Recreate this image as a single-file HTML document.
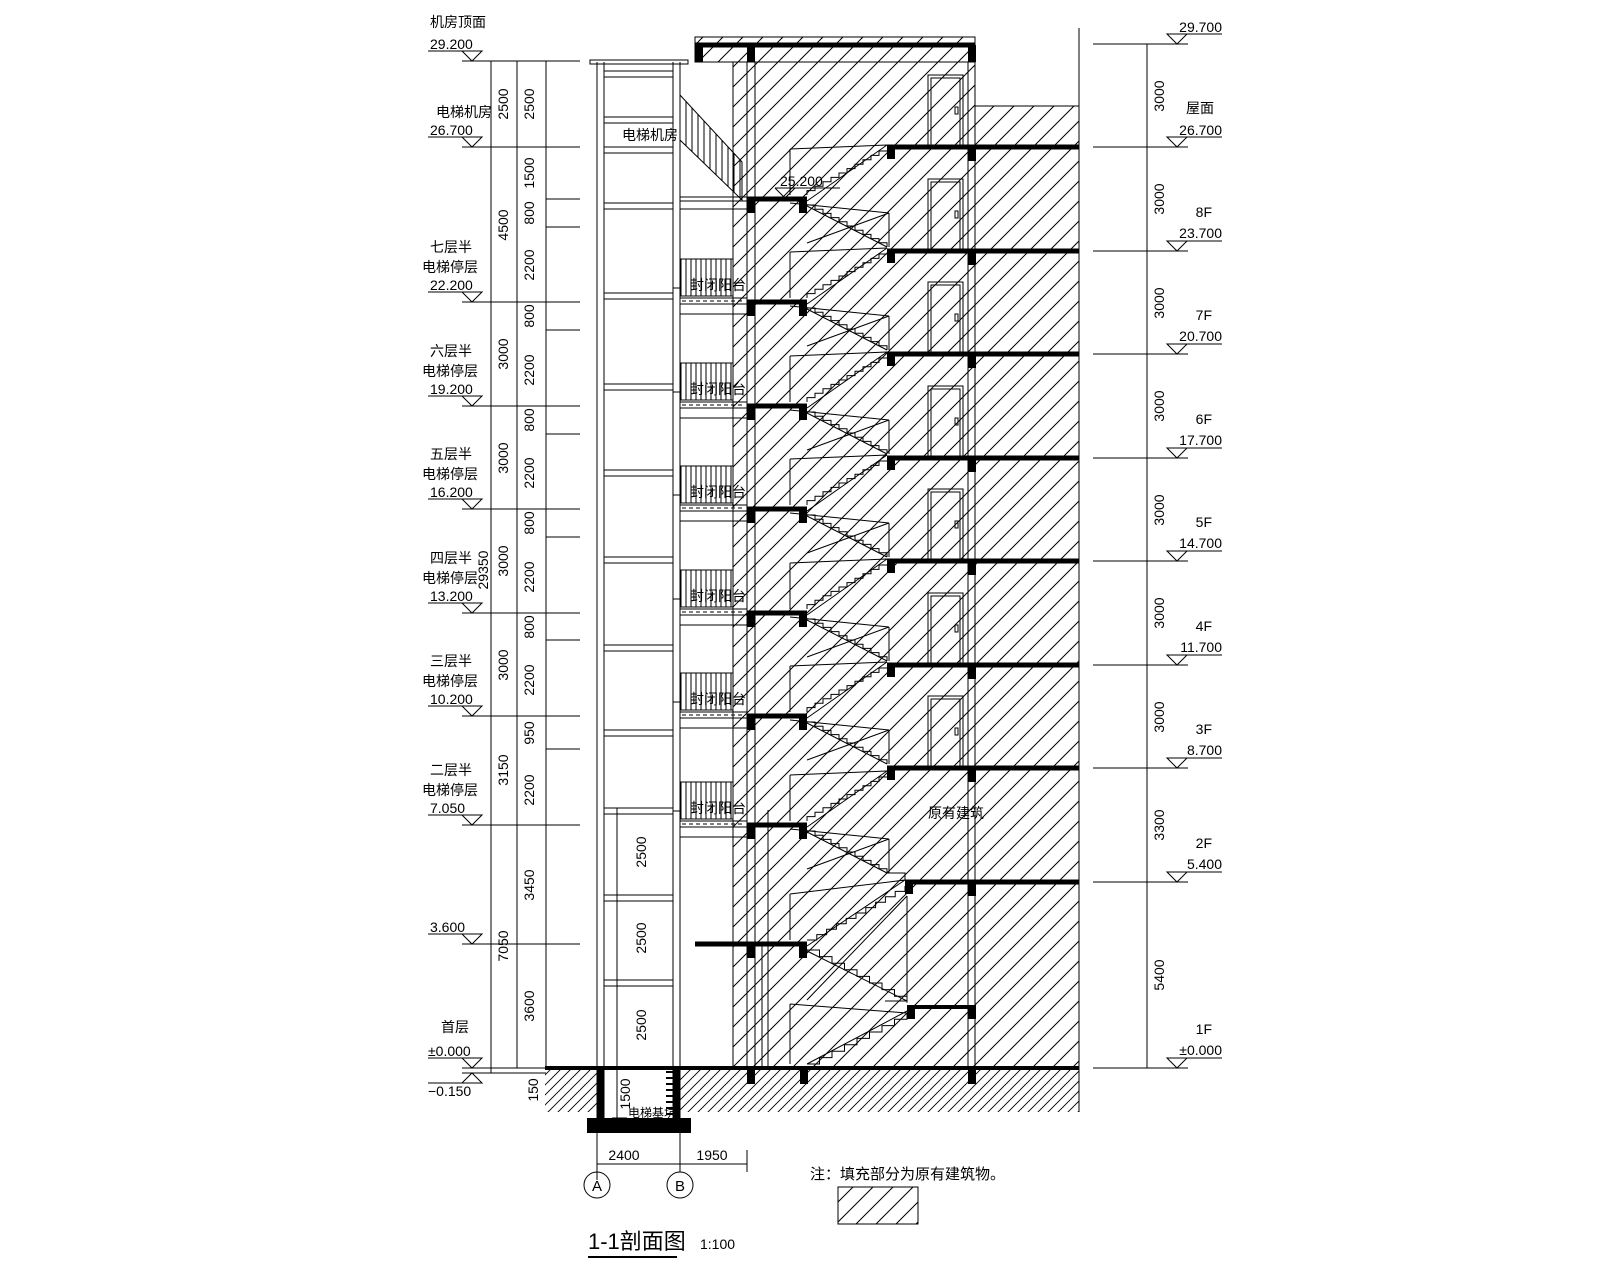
<!DOCTYPE html>
<html><head><meta charset="utf-8"><style>
html,body{margin:0;padding:0;background:#fff}
svg{display:block}
text{font-family:"Liberation Sans","Noto Sans CJK SC",sans-serif;fill:#000;font-size:14px}
</style></head><body>
<svg width="1600" height="1280" viewBox="0 0 1600 1280" xmlns="http://www.w3.org/2000/svg" xmlns:xlink="http://www.w3.org/1999/xlink">
<defs>
<pattern id="h" patternUnits="userSpaceOnUse" width="20" height="20">
<path d="M-5,25 L25,-5 M-5,5 L5,-5 M15,25 L25,15" stroke="#000" stroke-width="1"/>
</pattern>
<pattern id="g" patternUnits="userSpaceOnUse" width="10" height="10">
<path d="M-2,12 L12,-2 M-2,2 L2,-2 M8,12 L12,8" stroke="#000" stroke-width="0.9"/>
</pattern>
<g id="fl">
<path d="M887 0H1079" stroke="#000" stroke-width="5"/>
<path d="M887 -2h8v14h-8z M968 -2h8v16h-8z" fill="#000"/>
<path d="M928 -72h35v70h-35z M931 -69h29v67h-29z M955 -40h3v7h-3z" fill="none" stroke="#000"/>
</g>
<g id="ld" fill="none" stroke="#000">
<path d="M747 0H807" stroke-width="5"/>
<path d="M747 -2h8v16h-8z M799 -2h8v16h-8z" fill="#000" stroke="none"/>
<path d="M807 -4v-4.4h8v-4.4h8v-4.4h8v-4.4h8v-4.4h8v-4.4h8v-4.4h8v-4.4h8v-4.4h8v-4.4h8"/>
<path d="M807 6h8v4.2h8v4.2h8v4.2h8v4.2h8v4.2h8v4.2h8v4.2h8v4.2h8v4.2h8v4.2"/>
<path d="M807 2L887 -54M805 6L887 48M790 -50L887 -54M790 -50V-4M889 14V48M889 14L807 44M790 4L889 14"/>
</g>
<g id="bl" fill="none" stroke="#000">
<path d="M681 -43h52v37h-52z"/>
<path d="M686 -43V-6M691 -43V-6M696 -43V-6M701 -43V-6M706 -43V-6M711 -43V-6M716 -43V-6M721 -43V-6M726 -43V-6M731 -43V-6"/>
<path d="M680 -4H747M680 2H747M680 12H747M673 -14H680"/>
<path d="M682 -1H745" stroke-dasharray="4 3"/>
</g>
<g id="tl" fill="none" stroke="#000"><path d="M-10 -10L0 0L10 -10Z M-44 -10H10"/></g>
<g id="tr" fill="none" stroke="#000"><path d="M-10 -10L0 0L10 -10Z M-10 -10H45"/></g>
</defs>

<!-- hatched building -->
<rect x="695" y="37" width="280" height="25" fill="url(#h)" stroke="#000"/>
<rect x="733" y="62" width="242" height="1006" fill="url(#h)"/>
<rect x="975" y="106" width="104" height="962" fill="url(#h)"/>
<rect x="545" y="1068" width="534" height="44" fill="url(#g)"/>
<rect x="604" y="1068" width="69" height="50" fill="#fff"/>

<g fill="none" stroke="#000">
<path d="M975 106H1079M733 62V1068M747 62V1068M755 62V1068M968 62V1068M975 62V1068M1079 28V1112M703 62H733"/>
<path d="M695 45H975" stroke-width="5"/>
</g>
<path d="M695 45h8v17h-8z M747 45h8v17h-8z M968 45h8v17h-8z" fill="#000"/>

<use xlink:href="#fl" href="#fl" y="147"/>
<use xlink:href="#fl" href="#fl" y="251"/>
<use xlink:href="#fl" href="#fl" y="354"/>
<use xlink:href="#fl" href="#fl" y="458"/>
<use xlink:href="#fl" href="#fl" y="561"/>
<use xlink:href="#fl" href="#fl" y="665"/>
<use xlink:href="#fl" href="#fl" y="768"/>

<use xlink:href="#ld" href="#ld" y="199"/>
<use xlink:href="#ld" href="#ld" y="302"/>
<use xlink:href="#ld" href="#ld" y="406"/>
<use xlink:href="#ld" href="#ld" y="509"/>
<use xlink:href="#ld" href="#ld" y="613"/>
<use xlink:href="#ld" href="#ld" y="716"/>
<use xlink:href="#ld" href="#ld" y="825"/>
<use xlink:href="#bl" href="#bl" y="302"/>
<use xlink:href="#bl" href="#bl" y="406"/>
<use xlink:href="#bl" href="#bl" y="509"/>
<use xlink:href="#bl" href="#bl" y="613"/>
<use xlink:href="#bl" href="#bl" y="716"/>
<use xlink:href="#bl" href="#bl" y="825"/>

<g fill="none" stroke="#000">
<path d="M680 197H747M680 201H747M680 209H747"/>
<!-- 2F slab and ground -->
<path d="M905 882H1079" stroke-width="5"/>
<path d="M545 1068H1079" stroke-width="4"/>
<path d="M695 944H807" stroke-width="5"/>
<path d="M907 1007H975" stroke-width="4"/>
<path d="M887 873H905V880"/>
<path d="M807 940h9.8v-5.4h9.8v-5.4h9.8v-5.4h9.8v-5.4h9.8v-5.4h9.8v-5.4h9.8v-5.4h9.8v-5.4h9.8v-5.4h9.8v-5.4"/>
<path d="M807 950h12.5v6.6h12.5v6.6h12.5v6.6h12.5v6.6h12.5v6.6h12.5v6.6h12.5v6.6h12.5v6.6"/>
<path d="M807 1064h12.5v-6.4h12.5v-6.4h12.5v-6.4h12.5v-6.4h12.5v-6.4h12.5v-6.4h12.5v-6.4h12.5v-6.4"/>
<path d="M807 946L905 880M805 950L907 1001M790 894L905 880M790 894V940M907 896V1001M907 896L807 1000M790 1004V1064M790 1004L907 1013M807 1064L907 1011M885 1001H907"/>
<path d="M762 944V1068M768 810V1068"/>
<!-- 25.200 mark -->
<path d="M775 188H840M775 188L785 198L795 188"/>
<!-- machine room stair railing -->
<path d="M680 95L742 162V200L680 140Z"/>
<path d="M686 101.5V145.8M692 108V151.6M698 114.5V157.4M704 121V163.2M710 127.4V169M716 133.9V174.8M722 140.4V180.6M728 146.9V186.5M734 153.4V192.3M740 159.8V198"/>
<!-- elevator shaft -->
<path d="M597 62V1133M604 62V1118M673 62V1118M680 62V1133"/>
<rect x="590" y="60" width="98" height="4"/>
<path d="M604 71H673M604 77H673M604 117H673M604 123H673M604 147H673M604 153H673M604 203H673M604 209H673M604 293H673M604 299H673M604 384H673M604 390H673M604 470H673M604 476H673M604 557H673M604 563H673M604 645H673M604 651H673M604 730H673M604 736H673M604 808H673M604 814H673M604 895H673M604 901H673M604 980H673M604 986H673"/>
<path d="M597 1133V1180M680 1133V1172"/>
<path d="M617 808V1118M612 808H627M612 895H627M612 980H627M612 1068H627M612 1118H627"/>
<path d="M666 1072H673M666 1078H673M666 1084H673M666 1090H673M666 1096H673M666 1102H673M666 1108H673M666 1114H673" stroke-width="2"/>
<!-- left dims -->
<path d="M491 61V1073M517 61V1068M546 61V1068"/>
<path d="M462 61H580M462 147H580M462 302H580M462 406H580M462 509H580M462 613H580M462 716H580M462 825H580M462 944H580M462 1068H580M462 1073H546"/>
<path d="M546 199H580M546 227H580M546 330H580M546 434H580M546 537H580M546 640H580M546 749H580"/>
<path d="M462 1083L472 1073L482 1083Z M428 1083H482"/>
<!-- right dims -->
<path d="M1147 44V1068M1093 44H1188M1093 147H1188M1093 251H1188M1093 354H1188M1093 458H1188M1093 561H1188M1093 665H1188M1093 768H1188M1093 882H1188M1093 1068H1188"/>
<!-- bottom -->
<path d="M597 1164H747M747 1150V1172"/>
<circle cx="597" cy="1185" r="13"/><circle cx="680" cy="1185" r="13"/>
<rect x="838" y="1187" width="80" height="37" fill="url(#h)"/>
<path d="M588 1257H677" stroke-width="2"/>
</g>
<path d="M747 942h8v16h-8z M799 942h8v16h-8z M905 880h8v14h-8z M968 880h8v16h-8z M907 1005h8v14h-8z M968 1005h8v14h-8z M747 1066h8v18h-8z M800 1066h8v18h-8z M968 1066h8v18h-8z M597 1068h7v50h-7z M673 1068h7v50h-7z M587 1118h104v15h-104z" fill="#000"/>

<use xlink:href="#tl" href="#tl" x="472" y="61"/>
<use xlink:href="#tl" href="#tl" x="472" y="147"/>
<use xlink:href="#tl" href="#tl" x="472" y="302"/>
<use xlink:href="#tl" href="#tl" x="472" y="406"/>
<use xlink:href="#tl" href="#tl" x="472" y="509"/>
<use xlink:href="#tl" href="#tl" x="472" y="613"/>
<use xlink:href="#tl" href="#tl" x="472" y="716"/>
<use xlink:href="#tl" href="#tl" x="472" y="825"/>
<use xlink:href="#tl" href="#tl" x="472" y="944"/>
<use xlink:href="#tl" href="#tl" x="472" y="1068"/>
<use xlink:href="#tr" href="#tr" x="1177" y="44"/>
<use xlink:href="#tr" href="#tr" x="1177" y="147"/>
<use xlink:href="#tr" href="#tr" x="1177" y="251"/>
<use xlink:href="#tr" href="#tr" x="1177" y="354"/>
<use xlink:href="#tr" href="#tr" x="1177" y="458"/>
<use xlink:href="#tr" href="#tr" x="1177" y="561"/>
<use xlink:href="#tr" href="#tr" x="1177" y="665"/>
<use xlink:href="#tr" href="#tr" x="1177" y="768"/>
<use xlink:href="#tr" href="#tr" x="1177" y="882"/>
<use xlink:href="#tr" href="#tr" x="1177" y="1068"/>

<!-- left labels -->
<text x="430" y="27">机房顶面</text><text x="430" y="49">29.200</text>
<text x="436" y="117">电梯机房</text><text x="430" y="135">26.700</text>
<text x="430" y="252">七层半</text><text x="422" y="272">电梯停层</text><text x="430" y="290">22.200</text>
<text x="430" y="356">六层半</text><text x="422" y="376">电梯停层</text><text x="430" y="394">19.200</text>
<text x="430" y="459">五层半</text><text x="422" y="479">电梯停层</text><text x="430" y="497">16.200</text>
<text x="430" y="563">四层半</text><text x="422" y="583">电梯停层</text><text x="430" y="601">13.200</text>
<text x="430" y="666">三层半</text><text x="422" y="686">电梯停层</text><text x="430" y="704">10.200</text>
<text x="430" y="775">二层半</text><text x="422" y="795">电梯停层</text><text x="430" y="813">7.050</text>
<text x="430" y="932">3.600</text>
<text x="441" y="1032">首层</text><text x="428" y="1056">±0.000</text>
<text x="428" y="1096">−0.150</text>

<g text-anchor="end">
<text x="1222" y="32">29.700</text>
<text x="1214" y="113">屋面</text><text x="1222" y="135">26.700</text>
<text x="1212" y="217">8F</text><text x="1222" y="238">23.700</text>
<text x="1212" y="320">7F</text><text x="1222" y="341">20.700</text>
<text x="1212" y="424">6F</text><text x="1222" y="445">17.700</text>
<text x="1212" y="527">5F</text><text x="1222" y="548">14.700</text>
<text x="1212" y="631">4F</text><text x="1222" y="652">11.700</text>
<text x="1212" y="734">3F</text><text x="1222" y="755">8.700</text>
<text x="1212" y="848">2F</text><text x="1222" y="869">5.400</text>
<text x="1212" y="1034">1F</text><text x="1222" y="1055">±0.000</text>
</g>

<g text-anchor="middle">
<g transform="translate(508,104) rotate(-90)"><text>2500</text></g>
<g transform="translate(534,104) rotate(-90)"><text>2500</text></g>
<g transform="translate(534,173) rotate(-90)"><text>1500</text></g>
<g transform="translate(534,213) rotate(-90)"><text>800</text></g>
<g transform="translate(508,225) rotate(-90)"><text>4500</text></g>
<g transform="translate(534,265) rotate(-90)"><text>2200</text></g>
<g transform="translate(534,316) rotate(-90)"><text>800</text></g>
<g transform="translate(508,354) rotate(-90)"><text>3000</text></g>
<g transform="translate(534,370) rotate(-90)"><text>2200</text></g>
<g transform="translate(534,420) rotate(-90)"><text>800</text></g>
<g transform="translate(508,458) rotate(-90)"><text>3000</text></g>
<g transform="translate(534,473) rotate(-90)"><text>2200</text></g>
<g transform="translate(534,523) rotate(-90)"><text>800</text></g>
<g transform="translate(508,561) rotate(-90)"><text>3000</text></g>
<g transform="translate(488,570) rotate(-90)"><text>29350</text></g>
<g transform="translate(534,577) rotate(-90)"><text>2200</text></g>
<g transform="translate(534,627) rotate(-90)"><text>800</text></g>
<g transform="translate(508,665) rotate(-90)"><text>3000</text></g>
<g transform="translate(534,680) rotate(-90)"><text>2200</text></g>
<g transform="translate(534,733) rotate(-90)"><text>950</text></g>
<g transform="translate(508,770) rotate(-90)"><text>3150</text></g>
<g transform="translate(534,790) rotate(-90)"><text>2200</text></g>
<g transform="translate(534,885) rotate(-90)"><text>3450</text></g>
<g transform="translate(508,946) rotate(-90)"><text>7050</text></g>
<g transform="translate(534,1006) rotate(-90)"><text>3600</text></g>
<g transform="translate(538,1090) rotate(-90)"><text>150</text></g>
<g transform="translate(646,852) rotate(-90)"><text>2500</text></g>
<g transform="translate(646,938) rotate(-90)"><text>2500</text></g>
<g transform="translate(646,1025) rotate(-90)"><text>2500</text></g>
<g transform="translate(630,1094) rotate(-90)"><text>1500</text></g>
<g transform="translate(1164,96) rotate(-90)"><text>3000</text></g>
<g transform="translate(1164,199) rotate(-90)"><text>3000</text></g>
<g transform="translate(1164,303) rotate(-90)"><text>3000</text></g>
<g transform="translate(1164,406) rotate(-90)"><text>3000</text></g>
<g transform="translate(1164,510) rotate(-90)"><text>3000</text></g>
<g transform="translate(1164,613) rotate(-90)"><text>3000</text></g>
<g transform="translate(1164,717) rotate(-90)"><text>3000</text></g>
<g transform="translate(1164,825) rotate(-90)"><text>3300</text></g>
<g transform="translate(1164,975) rotate(-90)"><text>5400</text></g>
</g>

<text x="622" y="140">电梯机房</text>
<text x="780" y="186">25.200</text>
<text x="690" y="290">封闭阳台</text>
<text x="690" y="394">封闭阳台</text>
<text x="690" y="497">封闭阳台</text>
<text x="690" y="601">封闭阳台</text>
<text x="690" y="704">封闭阳台</text>
<text x="690" y="813">封闭阳台</text>
<text x="928" y="818">原有建筑</text>
<text x="628" y="1117" style="font-size:12px">电梯基坑</text>
<text x="624" y="1160" text-anchor="middle">2400</text>
<text x="712" y="1160" text-anchor="middle">1950</text>
<text x="597" y="1191" text-anchor="middle" style="font-size:15px">A</text>
<text x="680" y="1191" text-anchor="middle" style="font-size:15px">B</text>
<text x="810" y="1179" style="font-size:15px">注：填充部分为原有建筑物。</text>
<text x="588" y="1249" style="font-size:22px">1-1剖面图</text>
<text x="700" y="1249">1:100</text>
</svg>
</body></html>
